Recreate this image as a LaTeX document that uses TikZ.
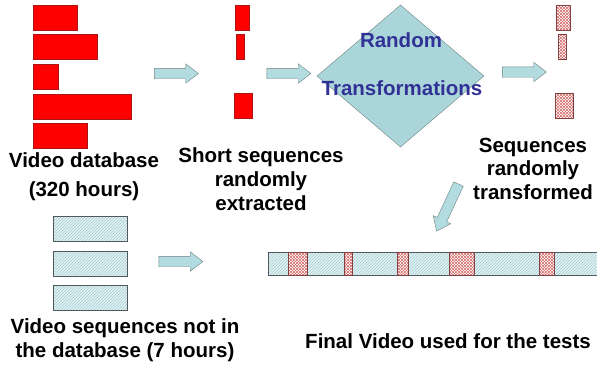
\documentclass[tikz,border=0pt]{standalone}
\usepackage{fontspec}
\setmainfont{Liberation Sans}
\usetikzlibrary{shapes.geometric,shapes.arrows,patterns}

\definecolor{barred}{RGB}{255,0,0}
\definecolor{bardark}{RGB}{170,20,20}
\definecolor{arrowfill}{RGB}{178,220,224}
\definecolor{arrowline}{RGB}{110,130,130}
\definecolor{diamondfill}{RGB}{170,214,218}
\definecolor{titleblue}{RGB}{50,50,150}
\definecolor{hatchback}{RGB}{228,242,244}
\definecolor{hatchline}{RGB}{160,205,210}
\definecolor{boxline}{RGB}{80,90,90}
\definecolor{dotred}{RGB}{215,110,110}

\tikzset{
  lbl/.style={anchor=base, inner sep=0pt, font=\fontsize{20.5}{24}\selectfont\bfseries},
  redbar/.style={draw=bardark, fill=barred, anchor=north west, inner sep=0pt, minimum height=25pt},
  pinkbar/.style={draw=boxline!70!red, preaction={fill=white},
    preaction={pattern=north west lines, pattern color=dotred},
    pattern=north east lines, pattern color=dotred,
    anchor=north west, inner sep=0pt, minimum height=25pt},
  cleanbar/.style={draw=boxline, preaction={fill=hatchback}, pattern=north east lines,
    pattern color=hatchline, anchor=north west, inner sep=0pt, minimum height=25pt},
  blockarrow/.style={single arrow, draw=arrowline, fill=arrowfill, inner sep=5pt,
    single arrow head extend=4.5pt, single arrow tip angle=75, minimum height=44pt},
}

\begin{document}
\begin{tikzpicture}[x=1pt,y=-1pt]
  \useasboundingbox (0,0) rectangle (597,368);

  % Video database
  \foreach \w/\y [count=\i] in {44/5, 64/34, 25/64, 98/94, 54/123}
    \node[redbar, minimum width=\w pt] (db\i) at (33,\y) {};
  \node[lbl] (dbname) at (84,167) {Video database};
  \node[lbl] (dbhours) at (84,196) {(320 hours)};

  % Short sequences extracted
  \node[redbar, minimum width=14pt] (ex1) at (235,5) {};
  \node[redbar, minimum width=8pt] (ex2) at (236,34) {};
  \node[redbar, minimum width=18pt] (ex3) at (234,93) {};
  \node[lbl] (exa) at (261,162) {Short sequences};
  \node[lbl] (exb) at (261,186) {randomly};
  \node[lbl] (exc) at (261,210) {extracted};

  % Transformations
  \node[diamond, draw=arrowline, fill=diamondfill, inner sep=0pt,
    minimum width=167pt, minimum height=142pt] (trans) at (400.5,76) {};
  \node[lbl, text=titleblue] (transa) at (401,47) {Random};
  \node[lbl, text=titleblue] (transb) at (402,95) {Transformations};

  % Transformed sequences
  \node[pinkbar, minimum width=14pt] (tr1) at (556,5) {};
  \node[pinkbar, minimum width=8pt] (tr2) at (558,34) {};
  \node[pinkbar, minimum width=18pt] (tr3) at (555,93) {};
  \node[lbl] (tra) at (533,152) {Sequences};
  \node[lbl] (trb) at (533,175) {randomly};
  \node[lbl] (trc) at (533,199) {transformed};

  % Sequences not in the database
  \foreach \y [count=\i] in {216, 251, 285}
    \node[cleanbar, minimum width=74pt] (cl\i) at (53,\y) {};
  \node[lbl] (cla) at (125,333) {Video sequences not in};
  \node[lbl] (clb) at (125,357) {the database (7 hours)};

  % Final video
  \node[cleanbar, minimum width=328.5pt, minimum height=23pt] (final) at (268,252) {};
  \foreach \x/\w [count=\i] in {288/19, 344/8, 397/11, 449/25, 539/15}
    \node[pinkbar, minimum width=\w pt, minimum height=23pt] (ins\i) at (\x,252) {};
  \node[lbl] (finala) at (448,348) {Final Video used for the tests};

  % Arrows
  \node[blockarrow] (arr1) at (173,73.5) {};
  \node[blockarrow] (arr2) at (285.5,73.5) {};
  \node[blockarrow] (arr3) at (521,72) {};
  \node[blockarrow, minimum height=52pt, rotate=245] (arr4) at (449,204.5) {};
  \node[blockarrow] (arr5) at (177.5,261.5) {};

\end{tikzpicture}
\end{document}
